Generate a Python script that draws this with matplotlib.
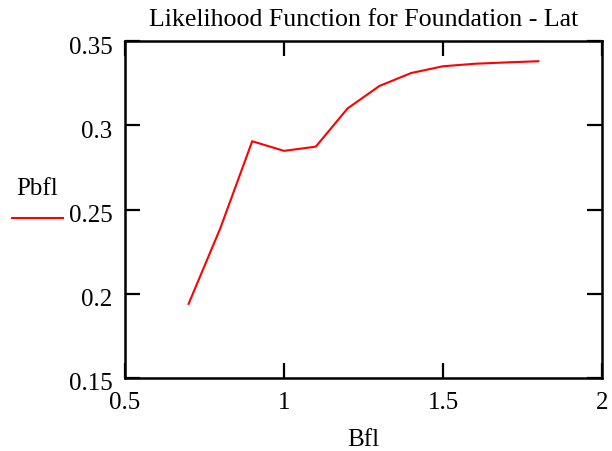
import matplotlib
matplotlib.use("Agg")
import matplotlib.pyplot as plt
from matplotlib.lines import Line2D
from matplotlib.transforms import ScaledTranslation

bfl = [0.7, 0.8, 0.9, 1.0, 1.1, 1.2, 1.3, 1.4, 1.5, 1.6, 1.7, 1.8]
pbfl = [0.194, 0.239, 0.2905, 0.2848, 0.2873, 0.310, 0.3233, 0.331, 0.335, 0.3365, 0.3373, 0.3380]
xticks = [0.5, 1, 1.5, 2]
yticks = [0.15, 0.2, 0.25, 0.3, 0.35]

plt.rcParams['font.family'] = ['Liberation Serif', 'DejaVu Serif']

fig = plt.figure(figsize=(6.12, 4.51), dpi=100)
ax = fig.add_axes([125/612, 1-378/451, (602-125)/612, (378-41)/451])
ax.plot(bfl, pbfl, color='red', lw=1.5)
ax.set_xlim(0.5, 2)
ax.set_ylim(0.15, 0.35)
ax.set_xticks(xticks)
ax.set_xticklabels(['0.5', '1', '1.5', '2'])
ax.set_yticks(yticks)
ax.set_yticklabels(['0.15', '0.2', '0.25', '0.3', '0.35'])
ax.tick_params(direction='in', length=11, width=1.6, top=True, right=True,
               labelsize=18, colors='black')
ax.tick_params(axis='x', pad=10)
ax.tick_params(axis='y', pad=9)
off = ScaledTranslation(0, -4/100, fig.dpi_scale_trans)
for lab in ax.get_yticklabels():
    lab.set_transform(lab.get_transform() + off)
for s in ax.spines.values():
    s.set_linewidth(1.8)
ax.set_title('Likelihood Function for Foundation - Lat', fontsize=18.6, pad=11)
ax.set_xlabel('Bfl', fontsize=18, labelpad=11)

fig.text(37/612, 1-189/451, 'Pbfl', fontsize=18, ha='center', va='center')
fig.add_artist(Line2D([12/612, 63/612], [1-218/451, 1-218/451], color='red', lw=1.5,
                      transform=fig.transFigure))

fig.savefig('out.png', dpi=100)
